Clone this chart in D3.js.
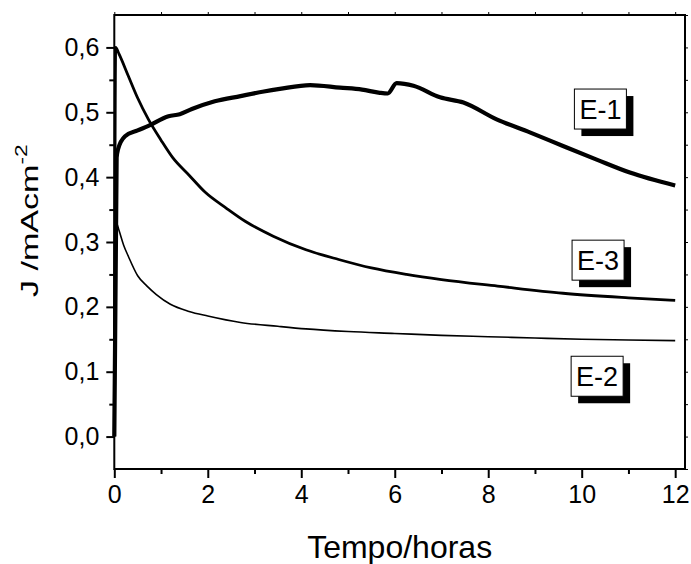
<!DOCTYPE html>
<html>
<head>
<meta charset="utf-8">
<script src="https://cdn.jsdelivr.net/npm/d3@7"></script>
<style>
  html, body { margin: 0; padding: 0; background: #fff; }
  svg { display: block; font-family: "Liberation Sans", Arial, sans-serif; }
</style>
</head>
<body>
<div id="chart"></div>
<script>
// values: [time (h), J (mA cm-2)]
const e1 = [[0,0],[0.05,0.43],[0.08,0.443],[0.23,0.463],[0.5,0.472],[0.73,0.479],[1.16,0.494],
  [1.4,0.497],[1.66,0.505],[2.15,0.517],[2.7,0.525],[3.2,0.532],[3.54,0.536],[4.19,0.542],
  [4.83,0.538],[5.3,0.535],[5.68,0.53],[5.85,0.529],[6.04,0.545],[6.4,0.541],[6.97,0.523],
  [7.47,0.515],[8.18,0.489],[8.89,0.469],[9.6,0.448],[10.32,0.427],[11.03,0.407],[12,0.387]];
const e3 = [[0,0],[0.03,0.6],[0.1,0.59],[0.3,0.556],[0.5,0.522],[0.73,0.489],[1,0.457],
  [1.25,0.43],[1.6,0.403],[1.94,0.377],[2.4,0.352],[2.8,0.332],[3.4,0.309],[4.1,0.288],
  [4.8,0.273],[5.5,0.26],[6.25,0.25],[7,0.242],[8.2,0.232],[9.6,0.221],[11,0.214],[12,0.21]];
const e2 = [[0,0],[0.04,0.33],[0.1,0.318],[0.2,0.295],[0.3,0.278],[0.5,0.248],[0.7,0.232],
  [0.9,0.219],[1.2,0.204],[1.6,0.193],[2,0.186],[2.7,0.176],[3.5,0.17],[4.1,0.166],[5,0.162],
  [6,0.159],[7,0.156],[8,0.154],[9,0.152],[10,0.15],[11,0.149],[12,0.148]];
const xTicks = [0, 2, 4, 6, 8, 10, 12];
const yTicks = [0, 0.1, 0.2, 0.3, 0.4, 0.5, 0.6];
const seriesNames = ["E-1", "E-3", "E-2"];

const width = 691, height = 564;
const x = d3.scaleLinear().domain([0, 12.21]).range([114.3, 685]);
const y = d3.scaleLinear().domain([-0.05, 0.65]).range([469, 15]);

const svg = d3.select("#chart").append("svg")
  .attr("width", width)
  .attr("height", height);

const fmt = d => d3.format(".1f")(d).replace(".", ",");

// bottom axis
svg.append("g")
  .attr("transform", `translate(0,${y.range()[0]})`)
  .call(d3.axisBottom(x).tickValues(xTicks).tickSize(9).tickPadding(7).tickFormat(d3.format("d")))
  .call(g => g.select(".domain").remove())
  .call(g => g.selectAll("text").attr("font-size", 25).attr("font-family", null).attr("fill", "#000"))
  .call(g => g.selectAll("line").attr("stroke-width", 2));
svg.append("g")
  .attr("transform", `translate(0,${y.range()[0]})`)
  .call(d3.axisBottom(x).tickValues(d3.range(1, 13, 2)).tickSize(5).tickFormat(""))
  .call(g => g.select(".domain").remove())
  .call(g => g.selectAll("line").attr("stroke-width", 2));

// left axis
svg.append("g")
  .attr("transform", `translate(${x.range()[0]},0)`)
  .call(d3.axisLeft(y).tickValues(yTicks).tickSize(8).tickPadding(7).tickFormat(fmt))
  .call(g => g.select(".domain").remove())
  .call(g => g.selectAll("text").attr("font-size", 25).attr("font-family", null).attr("fill", "#000"))
  .call(g => g.selectAll("line").attr("stroke-width", 2));
svg.append("g")
  .attr("transform", `translate(${x.range()[0]},0)`)
  .call(d3.axisLeft(y).tickValues(d3.range(0.05, 0.65, 0.1)).tickSize(5).tickFormat(""))
  .call(g => g.select(".domain").remove())
  .call(g => g.selectAll("line").attr("stroke-width", 2));

// top and right little ticks
svg.append("g")
  .attr("transform", `translate(0,${y.range()[1]})`)
  .call(d3.axisTop(x).tickValues(d3.range(0, 13, 1)).tickSize(3).tickFormat(""))
  .call(g => g.select(".domain").remove());
svg.append("g")
  .attr("transform", `translate(${x.range()[1]},0)`)
  .call(d3.axisRight(y).tickValues(d3.range(-0.05, 0.651, 0.05)).tickSize(3).tickFormat(""))
  .call(g => g.select(".domain").remove());

// frame
svg.append("rect")
  .attr("x", x.range()[0])
  .attr("y", y.range()[1])
  .attr("width", x.range()[1] - x.range()[0])
  .attr("height", y.range()[0] - y.range()[1])
  .attr("fill", "none")
  .attr("stroke", "#000")
  .attr("stroke-width", 2);

const line = d3.line()
  .curve(d3.curveMonotoneX)
  .x(d => x(d[0]))
  .y(d => y(d[1]));

const series = [
  {data: e2, w: 1.6},
  {data: e3, w: 2.8},
  {data: e1, w: 4.2}
];
svg.append("g")
  .selectAll("path")
  .data(series)
  .join("path")
  .attr("fill", "none")
  .attr("stroke", "#000")
  .attr("stroke-linejoin", "round")
  .attr("stroke-width", d => d.w)
  .attr("d", d => line(d.data));

// boxed labels with drop shadow
const labelPos = [[10.4, 0.505], [10.35, 0.272], [10.33, 0.093]];
const boxW = 52, boxH = 40, shadow = 7;
const labels = svg.append("g")
  .selectAll("g")
  .data(seriesNames)
  .join("g")
  .attr("transform", (d, i) => `translate(${x(labelPos[i][0])},${y(labelPos[i][1])})`);
labels.append("rect")
  .attr("x", -boxW / 2 + shadow).attr("y", -boxH / 2 + shadow)
  .attr("width", boxW).attr("height", boxH)
  .attr("fill", "#000");
labels.append("rect")
  .attr("x", -boxW / 2).attr("y", -boxH / 2)
  .attr("width", boxW).attr("height", boxH)
  .attr("fill", "#fff").attr("stroke", "#000").attr("stroke-width", 1);
labels.append("text")
  .attr("text-anchor", "middle")
  .attr("y", 10)
  .attr("font-size", 27)
  .text(d => d);

// axis titles
svg.append("text")
  .attr("x", (x.range()[0] + x.range()[1]) / 2)
  .attr("y", 558)
  .attr("text-anchor", "middle")
  .attr("font-size", 32)
  .text("Tempo/horas");

const yTitle = svg.append("text")
  .attr("transform", "translate(38,297) rotate(-90) scale(1.42,1)")
  .attr("font-size", 24);
yTitle.append("tspan").text("J /mAcm");
yTitle.append("tspan").attr("dy", -11).attr("font-size", 16).text("-2");
</script>
</body>
</html>
